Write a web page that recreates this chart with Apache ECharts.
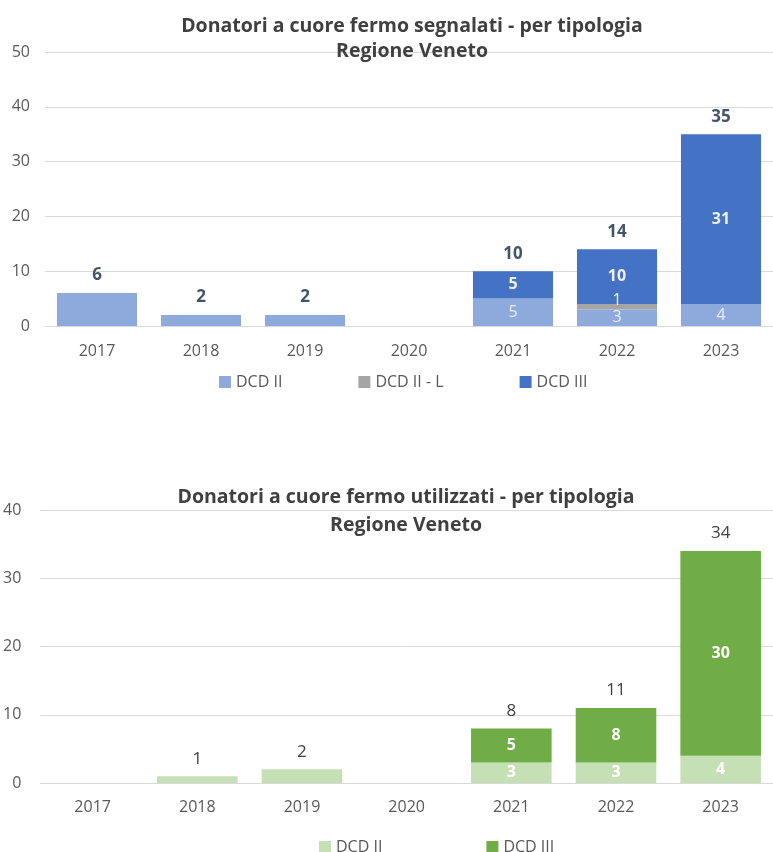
<!DOCTYPE html>
<html><head><meta charset="utf-8">
<script src="https://cdn.jsdelivr.net/npm/echarts@6/dist/echarts.min.js"></script>
<style>html,body{margin:0;padding:0;background:#fff}#c{width:773px;height:852px}</style>
</head><body><div id="c"></div>
<script>
const years = ['2017','2018','2019','2020','2021','2022','2023'];
const segDCDII = [6,2,2,0,5,3,4];
const segDCDIIL = [0,0,0,0,0,1,0];
const segDCDIII = [0,0,0,0,5,10,31];
const utiDCDII = [0,1,2,0,3,3,4];
const utiDCDIII = [0,0,0,0,5,8,30];
const yTicksTop = [0,10,20,30,40,50];
const yTicksBottom = [0,10,20,30,40];

const segTot = years.map((_,i)=>segDCDII[i]+segDCDIIL[i]+segDCDIII[i]);
const utiTot = years.map((_,i)=>utiDCDII[i]+utiDCDIII[i]);
const FONT = '"Open Sans", "Noto Sans", sans-serif';

function inner(tot, color, weight){
  return {show:true, position:'inside', color:color, fontWeight:weight, fontSize:16, fontFamily:FONT,
    formatter:p=> (p.value>0 && p.value<tot[p.dataIndex]) ? String(p.value) : ''};
}
function totalSeries(tot, idx, color, weight){
  return {type:'bar', stack:'s'+idx, xAxisIndex:idx, yAxisIndex:idx, data:years.map(()=>0),
    barCategoryGap:'23%', itemStyle:{color:'transparent'}, silent:true,
    label:{show:true, position:'top', distance:9, color:color, fontWeight:weight, fontSize:17, fontFamily:FONT,
      formatter:p=> tot[p.dataIndex]>0 ? String(tot[p.dataIndex]) : ''}};
}
const chart = echarts.init(document.getElementById('c'));
chart.setOption({
  animation:false,
  title:[
    {text:'Donatori a cuore fermo segnalati - per tipologia\nRegione Veneto', left:407, textAlign:'center', top:9,
     textStyle:{fontFamily:FONT, fontSize:19.5, fontWeight:'bold', color:'#404040', lineHeight:25}},
    {text:'Donatori a cuore fermo utilizzati - per tipologia\nRegione Veneto', left:401, textAlign:'center', top:478,
     textStyle:{fontFamily:FONT, fontSize:19.5, fontWeight:'bold', color:'#404040', lineHeight:28}}
  ],
  legend:[
    {data:[{name:'DCD II',itemStyle:{color:'#8EA9DB'}},{name:'DCD II - L',itemStyle:{color:'#A5A5A5'}},{name:'DCD III',itemStyle:{color:'#4472C4'}}],
     left:214, top:369, itemWidth:12, itemHeight:12, itemGap:76, icon:'rect',
     textStyle:{fontFamily:FONT, fontSize:16, color:'#595959'}},
    {data:[{name:'DCD II',itemStyle:{color:'#C5E0B4'}},{name:'DCD III',itemStyle:{color:'#70AD47'}}],
     left:314, top:834, itemWidth:12, itemHeight:12, itemGap:104, icon:'rect', selectedMode:false,
     textStyle:{fontFamily:FONT, fontSize:16, color:'#595959'}}
  ],
  grid:[
    {left:45, top:52, width:738, height:274},
    {left:39, top:510, width:744, height:273}
  ],
  xAxis:[
    {type:'category', gridIndex:0, data:years, axisTick:{show:false}, axisLine:{lineStyle:{color:'#d9d9d9'}},
     axisLabel:{fontFamily:FONT, fontSize:16, color:'#595959', margin:17}},
    {type:'category', gridIndex:1, data:years, axisTick:{show:false}, axisLine:{lineStyle:{color:'#d9d9d9'}},
     axisLabel:{fontFamily:FONT, fontSize:16, color:'#595959', margin:16}}
  ],
  yAxis:[
    {type:'value', gridIndex:0, min:yTicksTop[0], max:yTicksTop[yTicksTop.length-1], interval:10,
     splitLine:{lineStyle:{color:'#d9d9d9'}}, axisLine:{show:false}, axisTick:{show:false},
     axisLabel:{fontFamily:FONT, fontSize:16, color:'#595959', margin:15}},
    {type:'value', gridIndex:1, min:yTicksBottom[0], max:yTicksBottom[yTicksBottom.length-1], interval:10,
     splitLine:{lineStyle:{color:'#d9d9d9'}}, axisLine:{show:false}, axisTick:{show:false},
     axisLabel:{fontFamily:FONT, fontSize:16, color:'#595959', margin:19}}
  ],
  series:[
    {name:'DCD II', type:'bar', stack:'s0', xAxisIndex:0, yAxisIndex:0, data:segDCDII, barCategoryGap:'23%',
     itemStyle:{color:'#8EA9DB'}, label:inner(segTot,'#e8edf6','normal')},
    {name:'DCD II - L', type:'bar', stack:'s0', xAxisIndex:0, yAxisIndex:0, data:segDCDIIL,
     itemStyle:{color:'#A5A5A5'}, label:Object.assign(inner(segTot,'#f2f2f2','normal'),{position:'top',distance:-4})},
    {name:'DCD III', type:'bar', stack:'s0', xAxisIndex:0, yAxisIndex:0, data:segDCDIII,
     itemStyle:{color:'#4472C4'}, label:inner(segTot,'#f2f2f2','bold')},
    totalSeries(segTot,0,'#44546A','bold'),
    {name:'DCD II', type:'bar', stack:'s1', xAxisIndex:1, yAxisIndex:1, data:utiDCDII, barCategoryGap:'23%',
     itemStyle:{color:'#C5E0B4'}, label:inner(utiTot,'#ffffff','bold')},
    {name:'DCD III', type:'bar', stack:'s1', xAxisIndex:1, yAxisIndex:1, data:utiDCDIII,
     itemStyle:{color:'#70AD47'}, label:inner(utiTot,'#ffffff','bold')},
    totalSeries(utiTot,1,'#404040','normal')
  ]
});
</script></body></html>
